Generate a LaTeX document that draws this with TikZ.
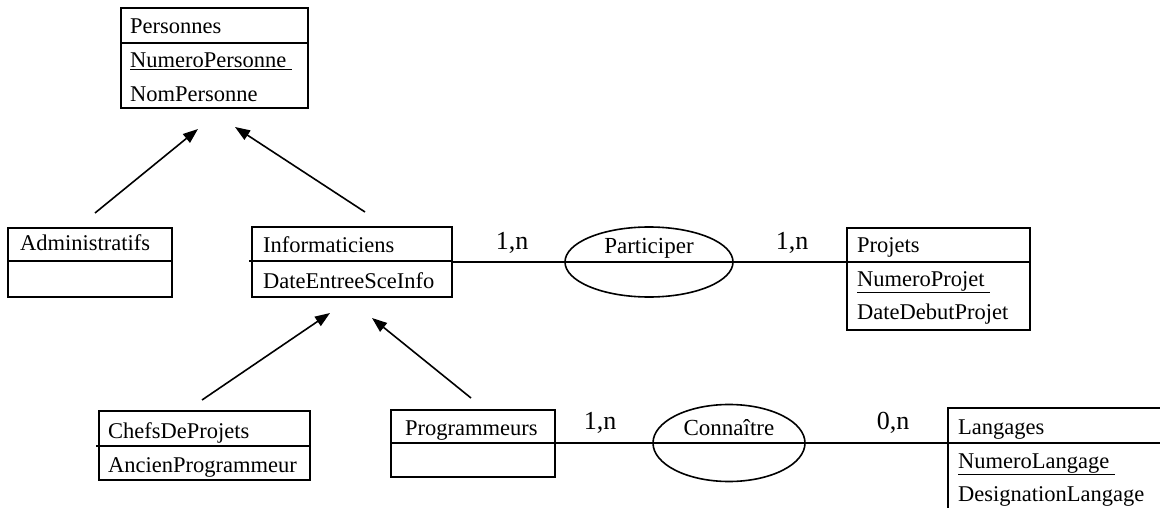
\documentclass[tikz,border=0pt]{standalone}
\usepackage{fontspec}
\setmainfont{Liberation Serif}
\usetikzlibrary{arrows.meta,shapes.geometric}
\tikzset{
  box/.style={draw, line width=1.6pt, inner sep=0pt},
  rel/.style={draw, ellipse, line width=1.6pt, inner sep=0pt},
  lbl/.style={anchor=base west, inner sep=0pt, font=\fontsize{22.5}{27}\selectfont},
  rlbl/.style={anchor=base, inner sep=0pt, font=\fontsize{23}{27}\selectfont},
  card/.style={anchor=base, inner sep=0pt, font=\fontsize{26}{30}\selectfont},
  ln/.style={line width=1.6pt},
  isa/.style={line width=1.6pt, -{Triangle[length=15pt,width=11pt]}}
}
\begin{document}
\begin{tikzpicture}[x=1pt,y=-1pt]
\useasboundingbox (0,0) rectangle (1160,508);
\clip (0,0) rectangle (1160,508);
% boxes
\node[box, minimum width=187pt, minimum height=100pt] (pers) at (214.5,58) {};
\node[box, minimum width=164pt, minimum height=69pt] (adm) at (90,262.5) {};
\node[box, minimum width=200pt, minimum height=70pt] (info) at (352,262) {};
\node[box, minimum width=183pt, minimum height=102pt] (proj) at (938.5,279) {};
\node[box, minimum width=211pt, minimum height=69pt] (chefs) at (204.5,445.5) {};
\node[box, minimum width=164pt, minimum height=67pt] (prog) at (473,443.5) {};
\node[box, minimum width=222pt, minimum height=112pt] (lang) at (1059,464) {};
% dividers
\draw[ln] (pers.west |- 0,43) -- (pers.east |- 0,43);
\draw[ln] (adm.west |- 0,261) -- (adm.east |- 0,261);
\draw[ln] (249,261) -- (info.east |- 0,261);
\draw[ln] (proj.west |- 0,262) -- (proj.east |- 0,262);
\draw[ln] (96,446) -- (chefs.east |- 0,446);
\draw[ln] (prog.west |- 0,443) -- (prog.east |- 0,443);
\draw[ln] (lang.west |- 0,443) -- (lang.east |- 0,443);
% texts
\node[lbl] (t1) at (130,33.5) {Personnes};
\node[lbl] (t2) at (130,67.5) {\underline{NumeroPersonne\ }};
\node[lbl] (t3) at (130,101.5) {NomPersonne};
\node[lbl] (t4) at (20,251) {Administratifs};
\node[lbl] (t5) at (263,252) {Informaticiens};
\node[lbl] (t6) at (263,288) {DateEntreeSceInfo};
\node[lbl] (t7) at (857,252) {Projets};
\node[lbl] (t8) at (857,286) {\underline{NumeroProjet\ }};
\node[lbl] (t9) at (857,319) {DateDebutProjet};
\node[lbl] (t10) at (108,438) {ChefsDeProjets};
\node[lbl] (t11) at (108,472) {AncienProgrammeur};
\node[lbl] (t12) at (405,435) {Programmeurs};
\node[lbl] (t13) at (958,434) {Langages};
\node[lbl] (t14) at (958,468) {\underline{NumeroLangage\ }};
\node[lbl] (t15) at (958,501) {DesignationLangage};
% relations
\node[rel, minimum width=168pt, minimum height=70pt] (part) at (649,262) {};
\node[rel, minimum width=152pt, minimum height=77pt] (conn) at (729,443) {};
\node[rlbl] (pl) at (649,253) {Participer};
\node[rlbl] (cl) at (729,435) {Conna\^{\i}tre};
\draw[ln] (info.east |- part.west) -- (part.west) -- (part.east) -- (proj.west |- part.east);
\draw[ln] (prog.east |- conn.west) -- (conn.west) -- (conn.east) -- (lang.west |- conn.east);
% cardinalities
\node[card] (c1) at (512,249) {1,n};
\node[card] (c2) at (792,249) {1,n};
\node[card] (c3) at (600,429) {1,n};
\node[card] (c4) at (893,429) {0,n};
% inheritance arrows
\coordinate (a1s) at (95,213); \coordinate (a1e) at (198,129);
\coordinate (a2s) at (365,212); \coordinate (a2e) at (235,127);
\coordinate (a3s) at (202,400); \coordinate (a3e) at (330,313);
\coordinate (a4s) at (471,398); \coordinate (a4e) at (372,318);
\draw[isa] (a1s) -- (a1e);
\draw[isa] (a2s) -- (a2e);
\draw[isa] (a3s) -- (a3e);
\draw[isa] (a4s) -- (a4e);
\end{tikzpicture}
\end{document}
